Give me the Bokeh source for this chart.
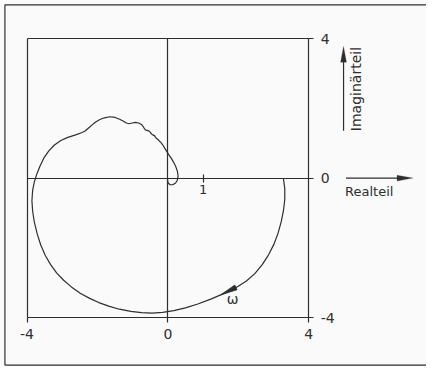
import math
from bokeh.plotting import figure
from bokeh.models import (Range1d, LinearAxis, FixedTicker, Label,
                          PolyAnnotation, BoxAnnotation, Arrow)
from bokeh.core.properties import value
from bokeh.embed import file_html
from bokeh.resources import INLINE

# ---------------- data ----------------
real_part = [3.28, 3.32, 3.32, 3.28, 3.22, 3.13, 3.01, 2.86, 2.68, 2.47, 2.23, 2.00,
             1.82, 1.50, 1.22, 0.85, 0.50, 0.17, -0.15, -0.45, -0.75, -1.05, -1.38,
             -1.68, -1.96, -2.22, -2.49, -2.74, -2.96, -3.16, -3.33, -3.48, -3.61,
             -3.71, -3.79, -3.84, -3.86, -3.84, -3.79, -3.72, -3.63, -3.52, -3.38,
             -3.22, -3.04, -2.84, -2.62, -2.45, -2.35, -2.26, -2.16, -2.05, -1.93,
             -1.80, -1.65, -1.50, -1.37, -1.26, -1.18, -1.10, -1.01, -0.92, -0.83,
             -0.75, -0.70, -0.66, -0.61, -0.55, -0.50, -0.47, -0.43, -0.38, -0.35,
             -0.31, -0.27, -0.24, -0.20, -0.17, -0.13, -0.09, -0.04, 0.02, 0.09,
             0.16, 0.22, 0.27, 0.29, 0.27, 0.22, 0.14, 0.06, 0.01, -0.01, 0.00]
imag_part = [0.00, -0.30, -0.62, -0.95, -1.25, -1.58, -1.90, -2.20, -2.48, -2.74, -2.95,
             -3.10, -3.20, -3.35, -3.47, -3.61, -3.72, -3.80, -3.85, -3.87, -3.86,
             -3.82, -3.76, -3.67, -3.57, -3.45, -3.30, -3.12, -2.93, -2.72, -2.48,
             -2.22, -1.92, -1.60, -1.27, -0.95, -0.65, -0.35, -0.10, 0.12, 0.35, 0.58,
             0.78, 0.95, 1.08, 1.17, 1.24, 1.30, 1.35, 1.43, 1.52, 1.61, 1.68, 1.73,
             1.76, 1.74, 1.69, 1.63, 1.58, 1.56, 1.58, 1.60, 1.58, 1.54, 1.48, 1.41,
             1.37, 1.36, 1.32, 1.27, 1.24, 1.22, 1.17, 1.13, 1.10, 1.06, 1.03, 0.98,
             0.93, 0.86, 0.78, 0.68, 0.58, 0.46, 0.34, 0.20, 0.06, -0.06, -0.14,
             -0.19, -0.19, -0.14, -0.06, 0.00]

axis_ticks = [-4, 0, 4]
axis_tick_labels = {-4: "-4", 0: "0", 4: "4"}
inner_ticks = [1]
inner_tick_labels = {1: "1"}
arrow_tip_index = 13        # omega arrow tip on the curve
arrow_dir_index = 11        # point the arrow base points toward
omega_label = "ω"
omega_label_pos = (1.84, -3.47)
real_label = "Realteil"
imag_label = "Imaginärteil"

# ---------------- layout / style ----------------
W, H = 426, 366
KX, KY = W / 434.0, H / 374.0          # reference px -> canvas px
LO, HI = -4, 4
box_l, box_r = 27 * KX, 314 * KX
box_t, box_b = 39 * KY, 324 * KY
SX = (box_r - box_l) / (HI - LO)
SY = (box_b - box_t) / (HI - LO)
XS = LO - box_l / SX
XE = XS + W / SX
YE = HI + box_t / SY
YS = YE - H / SY

INK = "#2e2e2e"
BG = "#fafafa"
FONT = "DejaVu Sans"
LW = 1.2


def DX(ref_x):
    return XS + ref_x * KX / SX


def DY(ref_y):
    return YE - ref_y * KY / SY


p = figure(width=W, height=H, x_range=Range1d(XS, XE), y_range=Range1d(YS, YE),
           output_backend="svg", toolbar_location=None,
           x_axis_location=None, y_axis_location=None,
           min_border=0, min_border_left=0, min_border_right=0,
           min_border_top=0, min_border_bottom=0)
p.background_fill_color = BG
p.border_fill_color = BG
p.outline_line_color = None
for g in list(p.grid):
    g.visible = False


def make_axis(loc, ticks, labels=None, tin=0, tout=5, standoff=6, size="14px"):
    ax = LinearAxis(fixed_location=loc, bounds=(LO, HI), ticker=FixedTicker(ticks=ticks))
    if labels:
        ax.major_label_overrides = dict(labels)
    ax.major_tick_in = tin
    ax.major_tick_out = tout
    ax.minor_tick_line_color = None
    ax.axis_line_color = INK
    ax.axis_line_width = LW
    ax.major_tick_line_color = INK
    ax.major_tick_line_width = LW
    ax.major_label_text_font = FONT
    ax.major_label_text_font_size = size
    ax.major_label_text_color = INK
    ax.major_label_standoff = standoff
    return ax


# box: bottom and right carry the scale, top and left are plain lines
p.add_layout(make_axis(LO, axis_ticks, axis_tick_labels, standoff=6), "below")
p.add_layout(make_axis(HI, axis_ticks, axis_tick_labels, standoff=7), "right")
p.add_layout(make_axis(HI, []), "above")
p.add_layout(make_axis(LO, []), "left")
# real axis (y = 0) with its tick at 1, imaginary axis (x = 0)
p.add_layout(make_axis(0, inner_ticks, inner_tick_labels, tin=4, tout=4,
                       standoff=3, size="13px"), "below")
p.add_layout(make_axis(0, []), "left")

# locus
p.line(real_part, imag_part, line_color=INK, line_width=LW)

# omega arrow on the locus
tx, ty = real_part[arrow_tip_index], imag_part[arrow_tip_index]
dx = (real_part[arrow_dir_index] - tx) * SX
dy = (imag_part[arrow_dir_index] - ty) * SY
L = math.hypot(dx, dy)
ux, uy = dx / L, dy / L
alen, ahw = 17.0, 2.6
bx, by = alen * ux, alen * uy
nx, ny = -uy * ahw, ux * ahw
p.patch([tx, tx + (bx + nx) / SX, tx + (bx - nx) / SX],
        [ty, ty + (by + ny) / SY, ty + (by - ny) / SY],
        fill_color=INK, line_color=INK, line_width=0.8)
p.text(x=[omega_label_pos[0]], y=[omega_label_pos[1]], text=[omega_label],
       text_align="center", text_baseline="middle",
       text_font=value(FONT), text_font_size="14px", text_color=INK)

# outer frame of the figure
p.add_layout(BoxAnnotation(left=DX(4.5), right=XE + 5, top=DY(4.5), bottom=DY(372.5),
                           fill_color=None, fill_alpha=0, line_color=INK, line_width=LW,
                           line_alpha=1))

# Realteil arrow + label
p.add_layout(Arrow(x_start=DX(352), y_start=0, x_end=DX(410), y_end=0, end=None,
                   line_color=INK, line_width=LW))
p.add_layout(PolyAnnotation(xs=[DX(420), DX(404), DX(404)],
                            ys=[DY(181.5), DY(178.5), DY(184.5)],
                            fill_color=INK, fill_alpha=1, line_color=INK, line_width=0.8))
p.add_layout(Label(x=DX(351), y=DY(195.5), text=real_label, text_align="left",
                   text_baseline="middle", text_font=FONT, text_font_size="13px",
                   text_color=INK))

# Imaginaerteil arrow + label
p.add_layout(Arrow(x_start=DX(349.5), y_start=DY(133), x_end=DX(349.5), y_end=DY(56),
                   end=None, line_color=INK, line_width=LW))
p.add_layout(PolyAnnotation(xs=[DX(349.5), DX(346.5), DX(352.5)],
                            ys=[DY(47), DY(63), DY(63)],
                            fill_color=INK, fill_alpha=1, line_color=INK, line_width=0.8))
p.add_layout(Label(x=DX(362.5), y=DY(90.5), text=imag_label, angle=math.pi / 2,
                   text_align="center", text_baseline="middle", text_font=FONT,
                   text_font_size="14px", text_color=INK))

open("out.html", "w").write(file_html(p, INLINE))
